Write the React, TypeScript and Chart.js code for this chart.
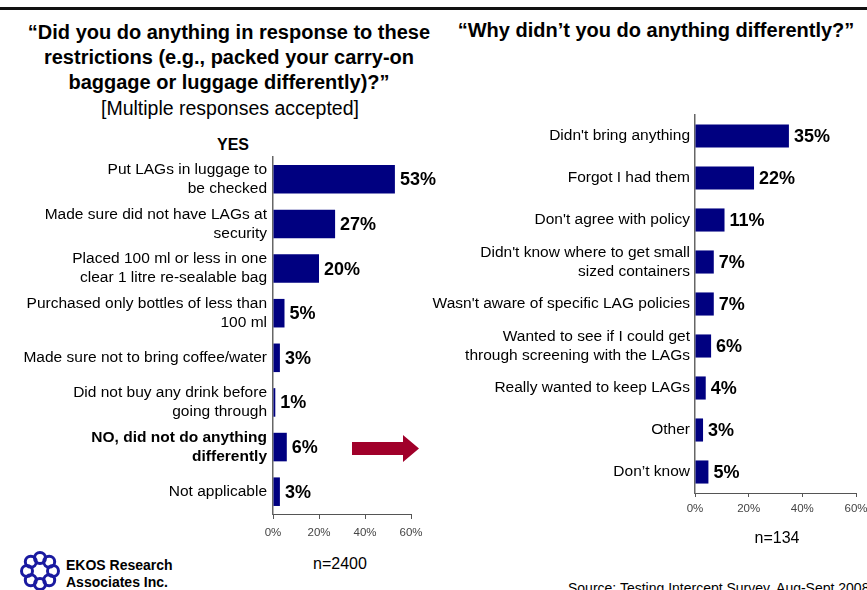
import React, { useEffect, useRef } from "react";
import { Chart, registerables } from "chart.js";

Chart.register(...registerables);

const leftCategories: (string | string[])[] = [
  ["Put LAGs in luggage to", "be checked"],
  ["Made sure did not have LAGs at", "security"],
  ["Placed 100 ml or less in one", "clear 1 litre re-sealable bag"],
  ["Purchased only bottles of less than", "100 ml"],
  "Made sure not to bring coffee/water",
  ["Did not buy any drink before", "going through"],
  ["NO, did not do anything", "differently"],
  "Not applicable",
];
const leftValues = [53, 27, 20, 5, 3, 1, 6, 3];
const leftBoldIndex = 6;

const rightCategories: (string | string[])[] = [
  "Didn't bring anything",
  "Forgot I had them",
  "Don't agree with policy",
  ["Didn't know where to get small", "sized containers"],
  "Wasn't aware of specific LAG policies",
  ["Wanted to see if I could get", "through screening with the LAGs"],
  "Really wanted to keep LAGs",
  "Other",
  "Don\u2019t know",
];
const rightValues = [35, 22, 11, 7, 7, 6, 4, 3, 5];

const axisTicks = [0, 20, 40, 60];

const FONT = "'Liberation Sans', Arial, Helvetica, sans-serif";
const BAR = "#000080";

const valueLabelPlugin = {
  id: "valueLabels",
  afterDatasetsDraw(chart: any) {
    const ctx = chart.ctx;
    const meta = chart.getDatasetMeta(0);
    const data = chart.data.datasets[0].data as number[];
    ctx.save();
    ctx.font = `bold 18px ${FONT}`;
    ctx.fillStyle = "#000";
    ctx.textAlign = "left";
    ctx.textBaseline = "middle";
    meta.data.forEach((bar: any, i: number) => {
      ctx.fillText(`${data[i]}%`, bar.x + 5, bar.y + 1);
    });
    ctx.restore();
  },
};

function makeConfig(
  labels: (string | string[])[],
  values: number[],
  opts: {
    yWidth: number;
    xHeight: number;
    barPct: number;
    padTop: number;
    padRight: number;
    tickPad: number;
    xTickPad: number;
    tickLen: number;
    boldIndex?: number;
  }
): any {
  return {
    type: "bar",
    data: {
      labels,
      datasets: [
        {
          data: values,
          backgroundColor: BAR,
          borderWidth: 0,
          categoryPercentage: 1,
          barPercentage: opts.barPct,
        },
      ],
    },
    options: {
      indexAxis: "y",
      animation: false,
      responsive: false,
      maintainAspectRatio: false,
      layout: { padding: { top: opts.padTop, right: opts.padRight, left: 0, bottom: 0 } },
      plugins: { legend: { display: false }, tooltip: { enabled: false }, title: { display: false } },
      scales: {
        x: {
          min: 0,
          max: 60,
          afterBuildTicks(scale: any) {
            scale.ticks = axisTicks.map((v) => ({ value: v }));
          },
          afterFit(scale: any) {
            scale.height = opts.xHeight;
          },
          ticks: {
            callback: (v: any) => `${v}%`,
            font: { family: FONT, size: 11.5 },
            color: "#444",
            padding: opts.xTickPad,
            maxRotation: 0,
          },
          grid: {
            display: true,
            drawOnChartArea: false,
            drawTicks: true,
            tickLength: opts.tickLen,
            color: "#555",
            lineWidth: 1,
          },
          border: { display: true, color: "#555", width: 1 },
        },
        y: {
          afterFit(scale: any) {
            scale.width = opts.yWidth;
          },
          ticks: {
            font: (c: any) => ({
              family: FONT,
              size: 15.5,
              lineHeight: 1.22,
              weight: c.index === opts.boldIndex ? "bold" : "normal",
            }),
            color: "#000",
            padding: opts.tickPad,
            autoSkip: false,
          },
          grid: { display: false, drawTicks: false },
          border: { display: true, color: "#666", width: 1.5 },
        },
      },
    },
    plugins: [valueLabelPlugin],
  };
}

function BarChart(props: {
  labels: (string | string[])[];
  values: number[];
  width: number;
  height: number;
  opts: any;
}) {
  const ref = useRef<HTMLCanvasElement>(null);
  useEffect(() => {
    if (!ref.current) return;
    const chart = new Chart(ref.current, makeConfig(props.labels, props.values, props.opts));
    return () => chart.destroy();
  }, []);
  return <canvas ref={ref} width={props.width} height={props.height} style={{ width: props.width, height: props.height, display: "block" }} />;
}

function Logo() {
  const blobs = [0, 1, 2, 3, 4, 5, 6, 7];
  return (
    <svg width={44} height={44} viewBox="-22 -22 44 44">
      {blobs.map((i) => {
        const a = (i / blobs.length) * Math.PI * 2;
        const cx = Math.cos(a) * 13;
        const cy = Math.sin(a) * 13;
        return (
          <circle key={i} cx={cx} cy={cy} r={5.5} fill="none" stroke="#1a1aa0" strokeWidth={3} />
        );
      })}
    </svg>
  );
}

export default function App() {
  const abs = (s: React.CSSProperties): React.CSSProperties => ({ position: "absolute", ...s });
  return (
    <div
      style={{
        position: "absolute",
        left: 0,
        top: 0,
        width: 867,
        height: 590,
        overflow: "hidden",
        background: "#fff",
        fontFamily: FONT,
        color: "#000",
      }}
    >
      <div style={abs({ left: 0, top: 7, width: 867, height: 3, background: "#111" })} />
      <div
        style={abs({
          left: 9,
          top: 20,
          width: 440,
          textAlign: "center",
          fontWeight: "bold",
          fontSize: 20,
          lineHeight: "25px",
        })}
      >
        {"\u201cDid you do anything in response to these"}
        <br />
        {"restrictions (e.g., packed your carry-on"}
        <br />
        {"baggage or luggage differently)?\u201d"}
      </div>
      <div style={abs({ left: 0, top: 96, width: 460, textAlign: "center", fontSize: 19.5, lineHeight: "25px" })}>
        [Multiple responses accepted]
      </div>
      <div style={abs({ left: 0, top: 134, width: 466, textAlign: "center", fontSize: 16, fontWeight: "bold", lineHeight: "22px" })}>
        YES
      </div>
      <div
        style={abs({
          left: 440,
          top: 18,
          width: 432,
          textAlign: "center",
          fontWeight: "bold",
          fontSize: 20,
          lineHeight: "25px",
        })}
      >
        {"\u201cWhy didn\u2019t you do anything differently?\u201d"}
      </div>

      <div style={abs({ left: 0, top: 132 })}>
        <BarChart
          labels={leftCategories}
          values={leftValues}
          width={440}
          height={25 + 357 + 30}
          opts={{
            yWidth: 273,
            xHeight: 30,
            barPct: 0.64,
            padTop: 25,
            padRight: 29,
            tickPad: 6,
            xTickPad: 7,
            tickLen: 5,
            boldIndex: leftBoldIndex,
          }}
        />
      </div>

      <div style={abs({ left: 420, top: 95 })}>
        <BarChart
          labels={rightCategories}
          values={rightValues}
          width={460}
          height={20 + 378 + 26}
          opts={{
            yWidth: 275,
            xHeight: 26,
            barPct: 0.55,
            padTop: 20,
            padRight: 24,
            tickPad: 5,
            xTickPad: 5,
            tickLen: 4,
          }}
        />
      </div>

      <svg style={abs({ left: 350, top: 434 })} width={72} height={30}>
        <polygon points="2,8 53,8 53,1 69,14.5 53,28 53,21 2,21" fill="#a0002a" />
      </svg>

      <div style={abs({ left: 240, top: 554, width: 200, textAlign: "center", fontSize: 16, lineHeight: "20px" })}>n=2400</div>
      <div style={abs({ left: 677, top: 528, width: 200, textAlign: "center", fontSize: 16, lineHeight: "20px" })}>n=134</div>

      <div style={abs({ left: 18, top: 549 })}>
        <Logo />
      </div>
      <div style={abs({ left: 66, top: 557, fontSize: 14, fontWeight: "bold", lineHeight: "17px" })}>
        EKOS Research
        <br />
        Associates Inc.
      </div>

      <div style={abs({ left: 568, top: 580, fontSize: 14, lineHeight: "17px", whiteSpace: "nowrap" })}>
        Source: Testing Intercept Survey, Aug-Sept 2008
      </div>
    </div>
  );
}
